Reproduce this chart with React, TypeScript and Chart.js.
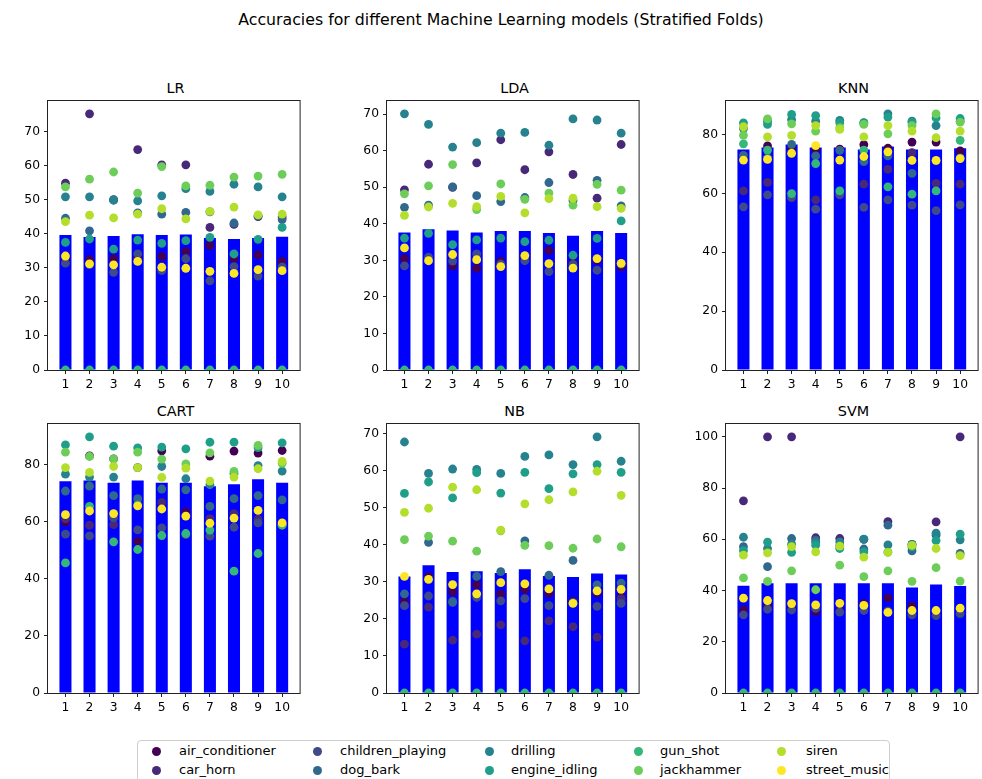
import React, { useEffect, useRef } from 'react';
import { Chart, registerables } from 'chart.js';

Chart.register(...registerables);

// ---------------- data ----------------
const FOLDS = [1, 2, 3, 4, 5, 6, 7, 8, 9, 10];

const CLASSES = [
  'air_conditioner',
  'car_horn',
  'children_playing',
  'dog_bark',
  'drilling',
  'engine_idling',
  'gun_shot',
  'jackhammer',
  'siren',
  'street_music',
];

const CLASS_COLORS = [
  '#440154',
  '#482878',
  '#3e4a89',
  '#31688e',
  '#26828e',
  '#1f9e89',
  '#35b779',
  '#6dcd59',
  '#b4de2c',
  '#fde725',
];

const SUPTITLE = 'Accuracies for different Machine Learning models (Stratified Folds)';

// mean accuracy per fold (bars)
const LR_MEAN = [39.7, 39.1, 39.4, 39.9, 39.7, 39.8, 38.8, 38.5, 38.8, 39.2];
const LDA_MEAN = [37.6, 38.5, 38.2, 37.6, 38.0, 38.0, 37.5, 36.7, 38.0, 37.5];
const KNN_MEAN = [74.9, 75.6, 76.6, 75.6, 75.6, 74.9, 75.9, 74.9, 74.9, 75.3];
const CART_MEAN = [74.2, 74.5, 73.7, 74.5, 73.7, 73.7, 72.5, 73.2, 74.9, 73.7];
const NB_MEAN = [31.5, 34.5, 32.7, 32.9, 32.4, 33.4, 31.6, 31.3, 32.3, 32.0];
const SVM_MEAN = [41.9, 42.8, 42.8, 42.8, 42.8, 42.8, 42.8, 41.2, 42.4, 41.8];

// per-class accuracy per fold (rows follow CLASSES)
const LR_CLASS_ACC = [
  [32.0, 32.4, 32.7, 33.0, 33.4, 34.8, 36.6, 32.8, 33.8, 31.9],
  [54.9, 75.3, 50.0, 64.8, 60.3, 60.3, 41.9, 42.8, 45.1, 45.0],
  [31.4, 31.0, 28.7, 34.1, 29.2, 32.7, 26.2, 30.4, 27.6, 30.3],
  [44.6, 40.9, 50.1, 46.2, 45.8, 46.3, 46.5, 43.2, 45.3, 44.2],
  [50.9, 50.9, 49.9, 49.7, 51.2, 53.3, 52.5, 54.6, 53.8, 50.9],
  [37.5, 38.5, 35.5, 38.2, 37.2, 38.0, 39.0, 34.1, 38.4, 41.9],
  [0, 0, 0, 0, 0, 0, 0, 0, 0, 0],
  [53.8, 56.1, 58.2, 52.0, 59.8, 54.1, 54.3, 56.7, 57.0, 57.5],
  [43.6, 45.5, 44.7, 45.8, 47.4, 44.4, 46.6, 47.9, 45.6, 45.8],
  [33.5, 31.2, 30.9, 31.9, 30.2, 29.9, 29.0, 28.4, 29.5, 29.2],
];

const LDA_CLASS_ACC = [
  [30.5, 30.5, 28.5, 27.8, 29.7, 31.0, 32.7, 29.5, 30.0, 28.2],
  [49.3, 56.3, 50.0, 56.7, 63.0, 54.8, 59.7, 53.5, 47.0, 61.7],
  [28.5, 30.9, 29.8, 31.8, 29.0, 29.9, 26.9, 28.9, 27.3, 29.0],
  [44.5, 45.1, 50.1, 47.7, 46.1, 47.2, 51.3, 46.4, 51.9, 44.9],
  [70.1, 67.2, 61.0, 62.2, 64.8, 65.0, 61.5, 68.7, 68.4, 64.8],
  [36.1, 37.4, 34.3, 35.6, 36.1, 35.1, 35.5, 31.4, 36.0, 40.8],
  [0, 0, 0, 0, 0, 0, 0, 0, 0, 0],
  [48.2, 50.4, 56.2, 43.9, 50.9, 46.7, 48.4, 45.1, 50.8, 49.2],
  [42.3, 44.6, 45.6, 44.7, 47.5, 43.0, 46.9, 47.0, 44.7, 44.2],
  [33.4, 29.9, 31.6, 30.2, 28.3, 31.3, 29.1, 27.9, 30.5, 29.2],
];

const KNN_CLASS_ACC = [
  [73.0, 76.1, 75.5, 74.9, 75.0, 76.5, 75.3, 77.4, 77.4, 74.4],
  [60.8, 63.7, 58.5, 57.8, 59.8, 63.1, 68.1, 73.8, 63.4, 63.1],
  [55.4, 59.5, 58.6, 54.6, 59.5, 55.2, 57.8, 56.0, 54.1, 56.1],
  [72.9, 72.0, 76.6, 72.7, 74.6, 70.8, 72.7, 66.8, 71.0, 72.0],
  [82.0, 84.5, 85.0, 84.5, 84.8, 84.0, 87.0, 84.5, 83.0, 84.5],
  [83.9, 83.4, 86.8, 86.4, 84.0, 83.9, 85.9, 84.0, 85.6, 85.4],
  [76.8, 74.7, 59.9, 70.1, 60.8, 74.7, 62.2, 59.7, 60.8, 78.0],
  [79.7, 85.3, 83.6, 81.1, 82.3, 83.4, 80.2, 83.0, 87.0, 84.2],
  [82.6, 79.2, 79.7, 83.0, 81.7, 79.2, 83.0, 81.1, 78.9, 81.1],
  [71.3, 71.5, 73.6, 76.2, 71.3, 72.5, 74.1, 71.2, 71.2, 71.8],
];

const CART_CLASS_ACC = [
  [59.9, 83.1, 82.1, 53.2, 84.9, 63.5, 83.0, 84.8, 84.1, 85.0],
  [61.0, 58.8, 59.0, 79.0, 66.8, 62.0, 61.1, 62.9, 60.9, 59.0],
  [55.7, 55.1, 61.4, 57.2, 57.9, 55.5, 55.0, 58.1, 59.6, 59.0],
  [70.8, 72.5, 69.2, 68.1, 71.5, 71.2, 65.4, 68.1, 69.2, 67.7],
  [76.7, 75.7, 75.7, 66.0, 79.4, 75.1, 73.0, 77.0, 79.7, 77.8],
  [87.0, 89.8, 86.5, 85.9, 86.2, 85.6, 87.9, 87.9, 86.0, 87.7],
  [45.6, 65.4, 53.0, 50.3, 55.2, 55.9, 57.1, 42.7, 48.9, 58.8],
  [84.4, 82.9, 82.1, 84.4, 82.0, 80.3, 84.2, 77.7, 86.8, 80.5],
  [79.0, 77.3, 79.4, 79.0, 75.6, 78.8, 74.3, 75.7, 78.6, 81.2],
  [62.5, 63.8, 62.9, 65.6, 64.5, 62.0, 59.5, 61.3, 64.0, 59.6],
];

const NB_CLASS_ACC = [
  [24.7, 31.4, 27.4, 29.2, 26.7, 28.0, 26.9, 24.8, 27.0, 26.0],
  [13.2, 23.2, 14.3, 15.9, 18.4, 14.1, 19.5, 17.9, 15.1, 25.5],
  [23.6, 26.2, 24.8, 25.8, 24.9, 25.5, 23.6, 24.5, 23.4, 24.2],
  [26.8, 40.7, 24.5, 31.5, 32.8, 41.1, 31.8, 35.8, 29.2, 29.7],
  [67.8, 59.3, 60.5, 60.4, 59.3, 63.9, 64.3, 61.7, 69.2, 62.6],
  [53.9, 57.0, 52.7, 59.5, 54.0, 59.6, 55.2, 59.2, 61.7, 59.6],
  [0, 0, 0, 0, 0, 0, 0, 0, 0, 0],
  [41.4, 42.4, 41.0, 38.3, 43.8, 39.9, 39.8, 39.1, 41.6, 39.5],
  [48.8, 49.9, 55.6, 54.9, 44.0, 51.1, 52.2, 54.3, 59.9, 53.4],
  [31.5, 30.7, 29.3, 26.8, 29.8, 29.5, 28.1, 24.2, 27.6, 28.0],
];

const SVM_CLASS_ACC = [
  [32.4, 34.0, 33.0, 31.8, 32.0, 34.9, 37.1, 34.0, 31.0, 31.0],
  [75.0, 100, 100, 60.6, 60.3, 60.0, 66.9, 58.0, 66.8, 100],
  [30.5, 32.7, 32.4, 33.0, 31.6, 32.2, 32.0, 30.5, 30.2, 31.0],
  [57.1, 49.3, 60.3, 59.7, 57.5, 56.2, 65.5, 55.5, 61.6, 54.5],
  [60.8, 56.4, 58.1, 58.8, 59.0, 60.1, 57.8, 58.0, 62.4, 59.8],
  [55.6, 58.9, 54.9, 57.7, 56.4, 55.1, 55.0, 57.0, 59.5, 62.0],
  [0, 0, 0, 0, 0, 0, 0, 0, 0, 0],
  [44.9, 43.6, 47.7, 40.3, 49.9, 45.4, 47.7, 43.6, 48.9, 43.7],
  [53.8, 54.7, 57.1, 55.1, 57.3, 53.0, 54.9, 57.6, 56.4, 53.6],
  [37.0, 36.1, 34.9, 34.4, 35.0, 34.2, 31.5, 32.2, 32.2, 33.1],
];

const MODEL_NAMES = ['LR', 'LDA', 'KNN', 'CART', 'NB', 'SVM'];
const MODEL_MEANS = [LR_MEAN, LDA_MEAN, KNN_MEAN, CART_MEAN, NB_MEAN, SVM_MEAN];
const MODEL_CLASS_ACC = [LR_CLASS_ACC, LDA_CLASS_ACC, KNN_CLASS_ACC, CART_CLASS_ACC, NB_CLASS_ACC, SVM_CLASS_ACC];
const Y_TICK_STEP = [10, 10, 20, 20, 10, 20];

// ---------------- layout ----------------
const FONT = '"DejaVu Sans", sans-serif';
const COL_LEFT = [48, 387, 726];
const ROW_TOP = [101, 424];
const AX_W = 255;
const AX_H = 269;
const Y_AXIS_W = 40;
const X_AXIS_H = 24;
const PAD_TOP = 5;
const PAD_RIGHT = 1;
const BAR_WIDTH = 0.5;
const MARGIN = 0.05;

const boxPlugin = {
  id: 'axesBox',
  afterDatasetsDraw(chart: any) {
    const { ctx, chartArea } = chart;
    ctx.save();
    ctx.strokeStyle = '#222';
    ctx.lineWidth = 1;
    ctx.strokeRect(
      chartArea.left - 0.5,
      chartArea.top - 0.5,
      chartArea.right - chartArea.left + 1,
      chartArea.bottom - chartArea.top + 1
    );
    ctx.restore();
  },
};

function Subplot({ idx }: { idx: number }) {
  const ref = useRef<HTMLCanvasElement>(null);
  const name = MODEL_NAMES[idx];
  const mean = MODEL_MEANS[idx];
  const scores = MODEL_CLASS_ACC[idx];
  const col = idx % 3;
  const row = Math.floor(idx / 3);
  const left = COL_LEFT[col];
  const top = ROW_TOP[row];
  const W = Y_AXIS_W + AX_W + PAD_RIGHT;
  const H = PAD_TOP + AX_H + X_AXIS_H;

  useEffect(() => {
    const all = [...mean, ...scores.flat()];
    const yMax = Math.max(...all) * (1 + MARGIN);
    const span = FOLDS[FOLDS.length - 1] - FOLDS[0] + BAR_WIDTH;
    const xMin = FOLDS[0] - BAR_WIDTH / 2 - span * MARGIN;
    const xMax = FOLDS[FOLDS.length - 1] + BAR_WIDTH / 2 + span * MARGIN;

    const datasets: any[] = [
      {
        type: 'bar',
        data: FOLDS.map((f, i) => ({ x: f, y: mean[i] })),
        backgroundColor: '#0000ff',
        borderWidth: 0,
        categoryPercentage: 1,
        barPercentage: BAR_WIDTH,
        order: 100,
        clip: 0,
      },
      ...scores.map((rowVals, c) => ({
        type: 'scatter',
        label: CLASSES[c],
        data: FOLDS.map((f, i) => ({ x: f, y: rowVals[i] })),
        backgroundColor: CLASS_COLORS[c],
        borderColor: CLASS_COLORS[c],
        borderWidth: 0,
        pointRadius: 4.4,
        pointHoverRadius: 4.4,
        order: CLASSES.length - c,
        clip: 0,
      })),
    ];

    const tickFont = { family: FONT, size: 12.3 };
    const chart = new Chart(ref.current as HTMLCanvasElement, {
      type: 'bar',
      data: { datasets },
      options: {
        animation: false,
        responsive: false,
        devicePixelRatio: 1,
        events: [],
        layout: { padding: { top: PAD_TOP, right: PAD_RIGHT, left: 0, bottom: 0 } },
        plugins: {
          legend: { display: false },
          tooltip: { enabled: false },
          title: { display: false },
        },
        scales: {
          x: {
            type: 'linear',
            min: xMin,
            max: xMax,
            offset: false,
            border: { display: false },
            grid: {
              display: true,
              offset: false,
              drawOnChartArea: false,
              drawTicks: true,
              tickLength: 4,
              color: '#222',
            },
            ticks: {
              stepSize: 1,
              includeBounds: false,
              autoSkip: false,
              maxRotation: 0,
              color: '#000',
              font: tickFont,
              padding: 3,
            },
            afterFit: (s: any) => {
              s.height = X_AXIS_H;
              s.paddingLeft = 0;
              s.paddingRight = 0;
              s.paddingTop = 0;
              s.paddingBottom = 0;
            },
          },
          y: {
            type: 'linear',
            min: 0,
            max: yMax,
            offset: false,
            border: { display: false },
            grid: {
              display: true,
              offset: false,
              drawOnChartArea: false,
              drawTicks: true,
              tickLength: 4,
              color: '#222',
            },
            ticks: {
              stepSize: Y_TICK_STEP[idx],
              includeBounds: false,
              color: '#000',
              font: tickFont,
              padding: 4,
            },
            afterFit: (s: any) => {
              s.width = Y_AXIS_W;
              s.paddingLeft = 0;
              s.paddingRight = 0;
              s.paddingTop = 0;
              s.paddingBottom = 0;
            },
          },
        },
      } as any,
      plugins: [boxPlugin],
    });
    return () => chart.destroy();
  }, []);

  return (
    <>
      <div
        style={{
          position: 'absolute',
          left: left,
          width: AX_W,
          top: top - 20,
          lineHeight: '14px',
          fontSize: 14.4,
          fontFamily: FONT,
          textAlign: 'center',
          color: '#000',
          whiteSpace: 'nowrap',
        }}
      >
        {name}
      </div>
      <canvas
        ref={ref}
        width={W}
        height={H}
        style={{
          position: 'absolute',
          left: left - Y_AXIS_W,
          top: top - PAD_TOP,
          width: W,
          height: H,
          display: 'block',
        }}
      />
    </>
  );
}

const LEGEND_COL_MARKER_X = [18, 179, 351, 500, 643];
const LEGEND_COL_TEXT_X = [41, 202, 373, 522, 668];
const LEGEND_ROW_Y = [10, 29];

function Legend() {
  return (
    <div
      style={{
        position: 'absolute',
        left: 137,
        top: 740,
        width: 753,
        height: 60,
        border: '1px solid #cfcfcf',
        borderRadius: 4,
        background: '#fff',
        boxSizing: 'border-box',
        fontFamily: FONT,
        fontSize: 13,
        color: '#000',
      }}
    >
      {CLASSES.map((c, i) => {
        const colI = Math.floor(i / 2);
        const rowI = i % 2;
        const cy = LEGEND_ROW_Y[rowI];
        return (
          <React.Fragment key={c}>
            <div
              style={{
                position: 'absolute',
                left: LEGEND_COL_MARKER_X[colI] - 4.5,
                top: cy - 4.5,
                width: 9,
                height: 9,
                borderRadius: '50%',
                background: CLASS_COLORS[i],
              }}
            />
            <div
              style={{
                position: 'absolute',
                left: LEGEND_COL_TEXT_X[colI],
                top: cy - 7,
                lineHeight: '14px',
                whiteSpace: 'nowrap',
              }}
            >
              {c}
            </div>
          </React.Fragment>
        );
      })}
    </div>
  );
}

export default function App() {
  return (
    <div
      style={{
        position: 'absolute',
        left: 0,
        top: 0,
        width: 982,
        height: 779,
        overflow: 'hidden',
        background: '#fff',
      }}
    >
      <div
        style={{
          position: 'absolute',
          left: 0,
          width: 1002,
          top: 12,
          lineHeight: '16px',
          fontSize: 15.75,
          fontFamily: FONT,
          textAlign: 'center',
          color: '#000',
          whiteSpace: 'nowrap',
        }}
      >
        {SUPTITLE}
      </div>
      {MODEL_NAMES.map((_, i) => (
        <Subplot key={i} idx={i} />
      ))}
      <Legend />
    </div>
  );
}
